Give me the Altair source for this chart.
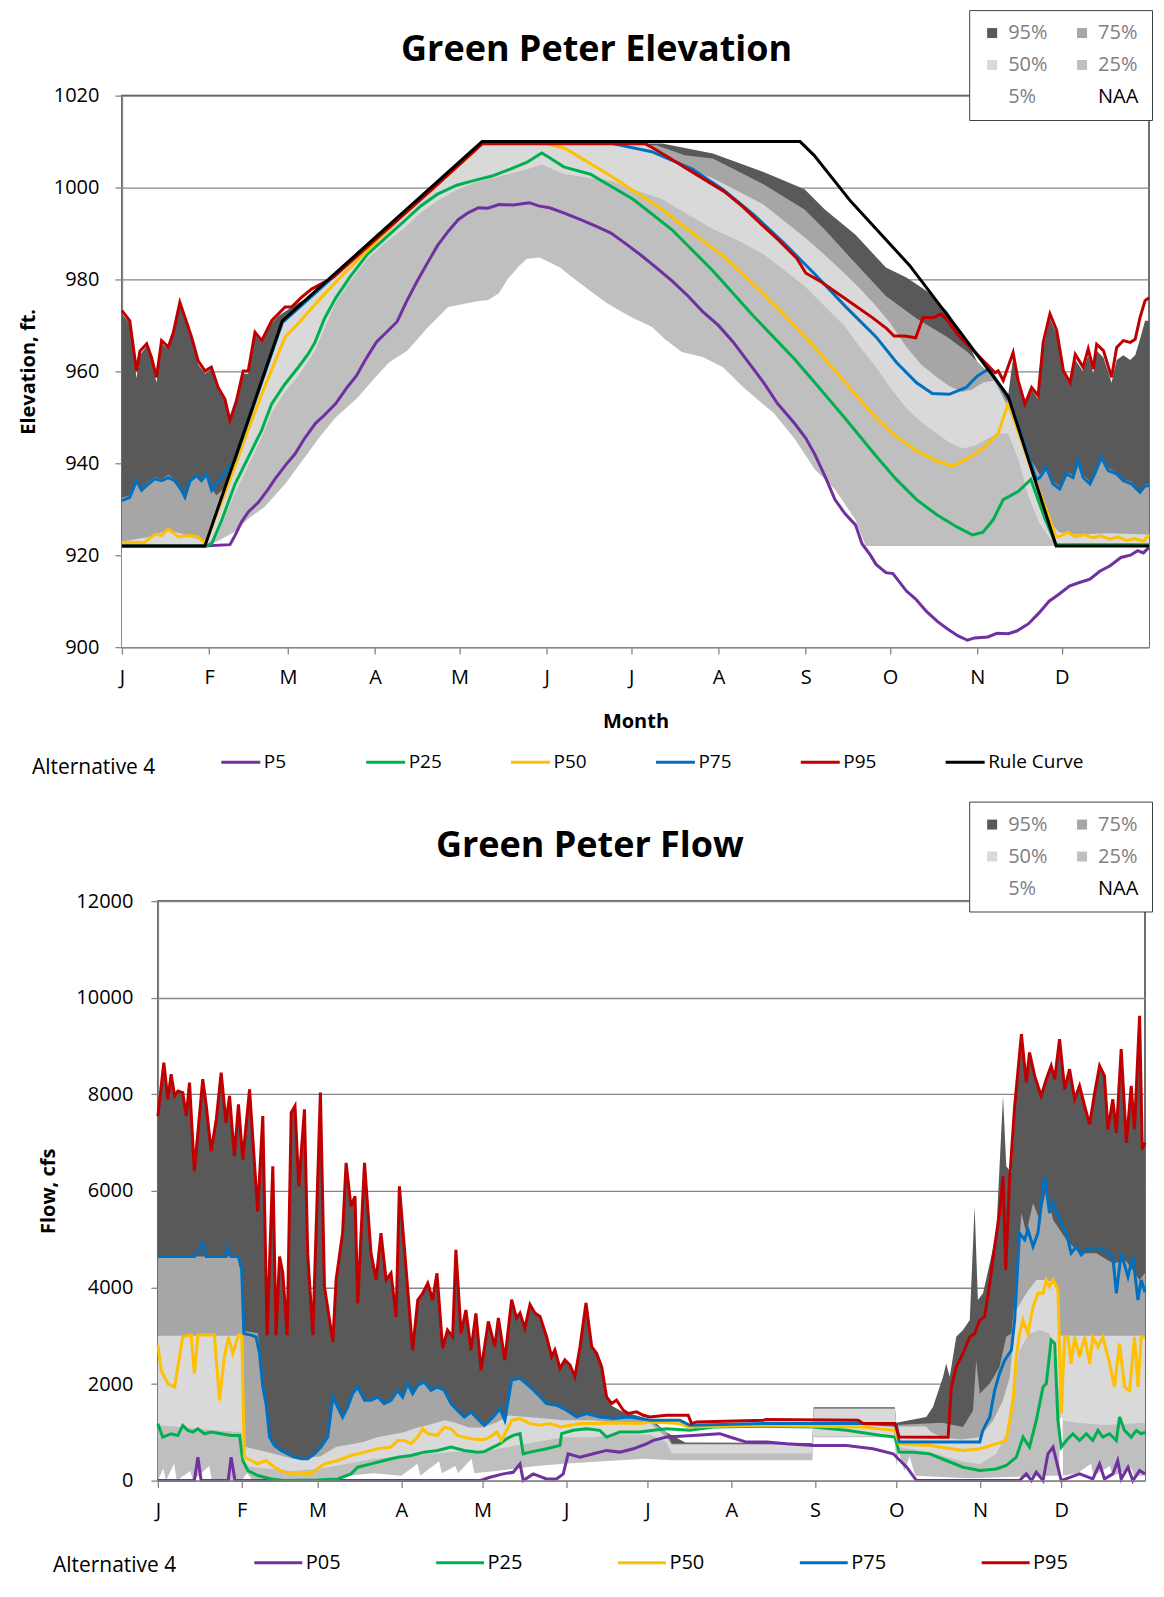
import altair as alt
import pandas as pd

FONT = "Open Sans"
MONTH_DAYS = [0, 31, 59, 90, 120, 151, 181, 212, 243, 273, 304, 334]
MONTH_LABELS = ["J", "F", "M", "A", "M", "J", "J", "A", "S", "O", "N", "D"]
ELEV_TICKS = [900, 920, 940, 960, 980, 1000, 1020]
FLOW_TICKS = [0, 2000, 4000, 6000, 8000, 10000, 12000]

BAND_NAMES = ["95%", "75%", "50%", "25%", "5%", "NAA"]
BAND_COLORS = ["#595959", "#a6a6a6", "#d9d9d9", "#bfbfbf", "#ffffff", "#ffffff"]

E_SERIES = ["P5", "P25", "P50", "P75", "P95", "Rule Curve"]
E_COLORS = ["#7030a0", "#00b050", "#ffc000", "#0070c0", "#c00000", "#000000"]
E_WIDTHS = [3, 3, 3, 3, 3, 7]
F_SERIES = ["P05", "P25", "P50", "P75", "P95"]
F_COLORS = ["#7030a0", "#00b050", "#ffc000", "#0070c0", "#c00000"]

# ---------------- Elevation (ft) : (day of year, value) ----------------
E_RULE = [(0, 922), (29.5, 922), (57, 971), (128, 1010), (241, 1010), (246, 1007), (259, 997),
          (280, 983), (298, 968.5), (315, 954.5), (332, 922), (365, 922)]

E_P95 = [(0, 973.2), (2.8, 971), (5.2, 960.1), (6.4, 964.4), (8.8, 966), (10.5, 963.1), (12.3, 958.7),
         (14.1, 966.7), (16.5, 965.3), (18.3, 968.5), (20.6, 975), (22.4, 971.8), (24.8, 967.4),
         (27.1, 962.3), (29.5, 960.1), (31.8, 960.9), (34.2, 956.5), (36.6, 954), (38.4, 949.3),
         (40.7, 953.6), (43.1, 960.1), (44.9, 960.1), (47.3, 968.5), (49.7, 966.7), (51.5, 968.9),
         (53.3, 971.1), (55.6, 972.5), (58, 974), (60.3, 974), (63.8, 976.1), (67.4, 977.9), (75, 980.4),
         (90, 988.6), (110, 999.5), (128, 1009.5), (186, 1009.5), (188.4, 1008.7), (194.9, 1006.3),
         (201.3, 1003.9), (207.7, 1001.5), (214.1, 999.1), (220.5, 995.9), (226.9, 992.2), (233.3, 988.6),
         (239.8, 984.6), (243, 981.4), (248.7, 979.4), (259, 975), (266.7, 971.7), (271.8, 969.3),
         (274.4, 967.7), (278.2, 967.7), (282.1, 967.3), (284.7, 971.7), (288.5, 971.7), (291.1, 972.5),
         (293.6, 970.9), (297.5, 967.7), (303.9, 963.7), (310.3, 959.7), (311.4, 960.1), (313.2, 958),
         (316.7, 964.1), (318.5, 958), (320.9, 952.9), (323.3, 956.5), (325.6, 954.7), (327.4, 966.3),
         (329.8, 972.5), (332.2, 968.9), (334.6, 960.1), (337, 957.5), (338.8, 963.7), (341.6, 960.9),
         (343.4, 964.9), (345.2, 960.5), (346.4, 965.9), (348.8, 964.5), (351.7, 958.7), (353.5, 965.2),
         (355.9, 966.7), (358.3, 966.3), (360.1, 967), (361.8, 971.7), (363.6, 975.4), (365, 976)]

E_P75 = [(0, 931.9), (2.8, 932.6), (5.2, 936.2), (7, 934.1), (9.4, 935.5), (11.7, 936.6), (14.1, 936.2),
         (16.5, 936.9), (18.8, 936.2), (21.2, 934.1), (22.4, 932.6), (24.2, 936.2), (26.5, 937.3),
         (28.3, 936.2), (30.1, 937.7), (31.9, 934.1), (33.6, 935.5), (35.4, 936.9), (40, 940.5),
         (57, 970.6), (128, 1009.6), (174, 1009.6), (188.3, 1007.8), (202.7, 1004), (213.6, 999.6),
         (224.5, 994.1), (235.3, 987.9), (246.2, 981.2), (257, 974.2), (268, 967.5), (275.2, 962),
         (282.4, 957.5), (288, 955.2), (294, 955), (300, 956.5), (304, 959), (308, 960.5), (315, 954.5),
         (325, 936.5), (326.2, 936.9), (328.5, 939.1), (330.9, 935.5), (333.3, 934.4), (335.6, 937.7),
         (338, 936.9), (339.8, 940.6), (341.6, 936.9), (344, 935.5), (345.7, 937.7), (348.1, 941.3),
         (350.5, 938.4), (353.5, 937.7), (355.9, 936.2), (358.8, 935.5), (361.8, 933.7), (363.6, 935.1),
         (365, 935.1)]

E_P50 = [(0, 922.7), (4, 922.8), (8, 922.7), (10, 923.8), (12, 924.6), (14, 924.3), (16.5, 925.7),
         (18.5, 924.8), (20, 924), (22.4, 924.2), (24.5, 924.3), (26.5, 924.1), (28, 923.5), (29.5, 922.5),
         (35, 931), (40, 939), (45, 947.5), (50, 955.5), (55, 963), (58, 967.5), (62, 970), (70, 975.5),
         (80, 982), (90, 988), (100, 994), (110, 999.5), (120, 1005), (128, 1009.5), (150, 1009.7),
         (157.5, 1008.5), (166.5, 1005.2), (173.8, 1002.5), (181, 999.6), (192, 995.2), (202.7, 990.1),
         (213.6, 985.2), (224.5, 979), (235.3, 972.4), (246.2, 965.3), (257, 957.6), (268, 949.8),
         (275.2, 945.8), (282.4, 942.7), (289.6, 940.5), (295, 939.4), (300.5, 941), (305.9, 943.2),
         (311.4, 946.5), (315, 953.1), (323, 939), (332, 924), (333, 924), (336, 925), (339, 924),
         (342, 924.5), (345, 923.8), (348, 924.2), (351, 923.5), (354, 924), (357, 923.2), (360, 923.6),
         (363, 923), (365, 924.5)]

E_P25 = [(0, 922), (30, 922), (31.9, 922.5), (35.4, 927.5), (40.2, 935.5), (44.9, 941.3), (49.6, 947.1),
         (53.2, 952.9), (57.9, 957.2), (62.7, 960.9), (66.2, 963.8), (68.6, 966.3), (72, 971.5), (76, 976),
         (81, 980.5), (87.3, 985.5), (93.6, 989), (100, 992.5), (106.2, 996), (112, 998.5), (119, 1000.5),
         (125, 1001.5), (131.5, 1002.5), (138, 1004), (144, 1005.5), (149.2, 1007.5), (152, 1006.5),
         (157, 1004.5), (166.5, 1002.9), (181.8, 997.4), (195.5, 990.8), (210, 981.9), (224.5, 972),
         (239, 962.7), (246.2, 957.6), (257, 949.8), (268, 941.6), (275.2, 936.5), (282.4, 932.1),
         (289.6, 928.8), (296.9, 926.1), (302.3, 924.4), (306, 925), (309.6, 927.7), (313.2, 932.1),
         (318.6, 933.9), (323, 936.5), (328, 928), (332, 922.3), (365, 922.3)]

E_P5 = [(0, 922), (29, 922), (38.4, 922.3), (40.2, 924.3), (42.5, 927.2), (44.9, 929.4), (48.5, 931.5),
        (52, 934.4), (54.3, 936.5), (58, 939.5), (61.5, 942), (65, 945.5), (68.8, 948.7), (72, 950.5),
        (76, 953), (80, 956.5), (83.3, 959), (87, 963), (90.5, 966.4), (94, 968.5), (97.8, 970.8),
        (101, 975), (105, 979.7), (108.5, 983.5), (112.2, 987.4), (116, 990.5), (119.5, 993), (123, 994.5),
        (126.7, 995.6), (130, 995.5), (134, 996.3), (139, 996.2), (144.8, 996.7), (148, 996), (152, 995.6),
        (157, 994.5), (163, 993), (168, 991.7), (173.8, 990.1), (179, 987.8), (184.6, 985.2), (190, 982.5),
        (195.5, 979.7), (201, 976.5), (206.4, 973), (212, 970), (217.2, 966.4), (222, 962.5), (228, 957.6),
        (233, 953), (239, 948.7), (243, 945.5), (246.2, 942), (250, 937), (253.4, 932.1), (257, 929),
        (260.7, 926.6), (263, 922.5), (266, 920), (268, 918), (271.5, 916.2), (274, 916), (278.8, 912.2),
        (282, 910.5), (286, 907.7), (290, 905.5), (293.3, 904), (297, 902.5), (300.5, 901.5), (303, 902),
        (307.7, 902.2), (311, 903), (315, 902.9), (318, 903.5), (322.2, 905.1), (326, 907.5), (329.5, 910),
        (333, 911.5), (336.7, 913.3), (340, 914), (344, 914.8), (347.5, 916.5), (351.2, 917.7),
        (355, 919.5), (358.4, 920), (361, 921), (363, 920.5), (365, 921.7)]

# NAA percentile band tops (elevation)
E_N95 = [(0, 972.5), (2.8, 970.5), (5.2, 958.5), (6.4, 963.5), (8.8, 965.5), (10.5, 962.5), (12.3, 957.5),
         (14.1, 966), (16.5, 965), (18.3, 968), (20.6, 974.5), (22.4, 971.5), (24.8, 967), (27.1, 961.5),
         (29.5, 959.5), (31.8, 960.5), (34.2, 956), (36.6, 953.5), (38.4, 949), (40.7, 953), (43.1, 959.5),
         (44.9, 959.5), (47.3, 968), (49.7, 966.2), (51.5, 968.5), (53.3, 970.5), (55.6, 972), (58, 973),
         (63, 975), (68, 976.5), (128, 1009.5), (192, 1009.6), (210, 1007.4), (228, 1003.4),
         (242.6, 999.6), (249.8, 995.2), (260.7, 989.7), (271.5, 982.6), (278.8, 980.4), (286, 977.5),
         (293.3, 973), (300.5, 966.4), (304, 962), (310, 958.5), (315, 955), (316.7, 963), (318.5, 957),
         (320.9, 952.5), (323.3, 956), (325.6, 954), (327.4, 965), (329.8, 971.5), (332.2, 968),
         (334.6, 959.5), (337, 957), (338.8, 962.5), (341.6, 960), (343.4, 963.5), (345.2, 959.5),
         (346.4, 964.5), (348.8, 963), (351.7, 957.5), (353.5, 962.5), (355.9, 963.5), (358.3, 962.5),
         (360.1, 963.5), (361.8, 967), (363.6, 971), (365, 971)]

E_N75 = [(0, 932.5), (2.8, 933), (5.2, 936.5), (7, 934.5), (9.4, 936), (11.7, 937), (14.1, 936.5),
         (16.5, 937.5), (18.8, 936.5), (21.2, 934.5), (22.4, 933), (24.2, 936.5), (26.5, 937.5),
         (28.3, 936.5), (30.1, 938), (31.9, 934.5), (33.6, 933), (37, 935), (57, 970.5), (128, 1009.4),
         (190, 1009.2), (200, 1007), (210, 1006.3), (228, 1000.7), (242.6, 995.2), (249.8, 990.8),
         (260.7, 983.5), (271.5, 976.4), (282.4, 971.5), (293.3, 967.5), (300.5, 964.2), (306, 960.9),
         (310, 958.5), (315, 953), (320, 944), (326.2, 937.5), (328.5, 939.5), (330.9, 936), (333.3, 935),
         (335.6, 938), (338, 937.5), (339.8, 941), (341.6, 937.5), (344, 936), (345.7, 938),
         (348.1, 941.5), (350.5, 939), (353.5, 938), (355.9, 936.5), (358.8, 936), (361.8, 934),
         (363.6, 935.5), (365, 935.5)]

E_N50 = [(0, 923), (10, 924), (16.5, 925.5), (22, 924.5), (29.5, 923), (35, 931.5), (57, 970.5),
         (128, 1009.7), (185, 1009.7), (192, 1007.4), (200, 1004.5), (210, 1002), (219, 999.2),
         (228, 996.3), (242.6, 989.2), (250, 985.2), (257, 981.2), (262, 978.2), (268, 974.2),
         (273, 970.5), (278.8, 965.3), (284, 961.5), (289.6, 958.7), (294, 956.8), (298.7, 955.5),
         (302, 956), (306, 957.6), (310, 958), (315, 952), (320, 944), (325, 936), (330, 927), (333, 925),
         (340, 924.5), (350, 924.8), (365, 924.5)]

E_N25 = [(0, 922.3), (30, 922.3), (34, 924.5), (40.2, 933.5), (44.9, 939.5), (49.6, 945.5), (53.2, 951),
         (57.9, 955.5), (62.7, 959), (68.6, 964.5), (76, 975), (81, 979.5), (87.3, 984.5), (93.6, 988),
         (100, 991), (106.2, 994.5), (112, 997), (119, 999.5), (125, 1001), (131.5, 1002), (138, 1003),
         (144, 1004), (149.2, 1005), (156.8, 1003), (166.5, 1002), (173.8, 1001.5), (182, 999.5),
         (192, 997.5), (200, 994.5), (210, 991), (219, 988.5), (228, 985.5), (242.6, 978.6), (250, 974),
         (257, 969.7), (262, 965.5), (268, 960.9), (273, 956.5), (278.8, 952), (284, 949), (289.6, 946.5),
         (294, 944.5), (298.7, 943.2), (303, 943.8), (307.7, 945.4), (311, 946.5), (315, 946.5),
         (319, 940), (322, 933), (326, 927), (330, 923.5), (334, 922.3), (365, 922.3)]

E_N5 = [(0, 922), (30.8, 922), (39.8, 925), (45, 928), (50.7, 930.5), (58, 935.5), (65.2, 941.5),
        (70, 945.5), (76, 950), (83.3, 954), (90.5, 959), (95, 962), (101.4, 964.5), (108.6, 969.5),
        (115.9, 974), (120, 974.5), (126.7, 975.3), (130, 975.5), (134, 977), (137, 980), (141.2, 983),
        (144, 984.5), (148.4, 984.8), (151, 984), (155.7, 982.6), (160, 980.5), (166.5, 977.5),
        (172, 975), (177.4, 973), (182, 971.5), (188.3, 969.7), (193, 967), (199, 964.2), (206.4, 963.1),
        (213.6, 960.9), (220.9, 956.5), (226, 953.8), (231.7, 950.9), (239, 945.4), (246.2, 938.7),
        (253.4, 934.3), (260.7, 927.7), (264.3, 922), (365, 922)]

# ---------------- Flow (cfs) : (day of year, value) ----------------
F_P95 = [(0, 7549), (2.2, 8657), (3.7, 7895), (4.9, 8415), (6.2, 7965), (7.4, 8069), (9.2, 8034),
         (10.5, 7549), (11.7, 8242), (13.5, 6407), (16.6, 8311), (17.9, 7757), (19.7, 6822), (21.6, 7480),
         (23.4, 8450), (25.2, 7411), (26.5, 7965), (28.3, 6718), (29.8, 7792), (31.4, 6649), (33.9, 8103),
         (36.9, 5575), (38.8, 7549), (40.4, 3013), (42.5, 6510), (43.7, 3013), (45, 4640), (46.2, 4294),
         (47.8, 3013), (49.3, 7618), (50.7, 7757), (52.1, 6095), (54.2, 7688), (55.4, 4710), (57.3, 3013),
         (60.1, 8034), (61.6, 4017), (64.7, 2874), (65.9, 4156), (68.3, 5125), (69.6, 6580), (71.4, 5679),
         (72.9, 5887), (73.9, 3671), (76.4, 6580), (78.8, 4710), (80.7, 4156), (82.5, 5125), (84.4, 4156),
         (86.2, 4294), (88.1, 3394), (89.3, 6095), (91.1, 4848), (94.2, 2701), (96.1, 3740), (97.9, 3879),
         (99.8, 4086), (101.6, 3740), (103.2, 4294), (105.3, 2736), (107.1, 3117), (109, 2978),
         (110.2, 4779), (112.1, 3047), (113.9, 3532), (115.8, 2701), (117.6, 3463), (119.5, 2286),
         (122.2, 3297), (124.6, 2776), (125.9, 3366), (128.3, 2498), (130.8, 3748), (132.6, 3366),
         (133.9, 3470), (135.7, 3158), (137.6, 3644), (139.4, 3470), (141.3, 3401), (143.7, 2984),
         (145.6, 2568), (146.8, 2707), (148.7, 2325), (150.5, 2498), (152.4, 2394), (154.2, 2151),
         (156.1, 2776), (158.3, 3678), (160.4, 2776), (162.2, 2637), (164.1, 2360), (165.9, 1735),
         (167.8, 1596), (169.6, 1666), (172.1, 1457), (173.9, 1388), (177, 1423), (179.5, 1353),
         (181.9, 1319), (188.1, 1353), (196.1, 1353), (197.3, 1180), (199.2, 1215), (223.8, 1249),
         (225.1, 1263), (258.9, 1249), (260.8, 1180), (272.5, 1180), (274.1, 902), (292.2, 900),
         (293.4, 1939), (295.2, 2355), (297.7, 2632), (300.2, 2978), (302, 3047), (303.9, 3324),
         (305.7, 3394), (307.6, 4086), (309.4, 4848), (311.2, 5541), (312.5, 6303), (313.5, 4363),
         (314.9, 6199), (316.8, 7757), (319.3, 9246), (321.1, 8242), (322.3, 8865), (324.2, 8380),
         (326.6, 7965), (328.5, 8311), (330.3, 8588), (331.6, 8311), (333.4, 9142), (335.3, 8103),
         (337.1, 8519), (339, 7896), (340.8, 8173), (342.7, 7757), (344.5, 7376), (346.4, 8034),
         (348.2, 8588), (350, 8380), (351.3, 7272), (353.1, 7896), (354.4, 7203), (356.2, 8934),
         (358.1, 6995), (359.9, 8173), (361.1, 7272), (363, 9627), (364, 6857), (365, 7000)]

F_P75 = [(0, 4640), (13.5, 4640), (16.6, 4917), (17.9, 4640), (25.2, 4640), (25.8, 4813), (27.1, 4640),
         (29.8, 4640), (31, 4363), (31.8, 3047), (34.5, 3013), (36.3, 2978), (37.6, 2632), (38.8, 1939),
         (40, 1593), (41.3, 900), (43.1, 727), (45.6, 623), (48, 554), (50.5, 485), (53, 450), (55.4, 450),
         (57.9, 554), (60.3, 693), (62.8, 900), (64.7, 1731), (66.5, 1524), (68.3, 1316), (70.2, 1524),
         (72, 1801), (73.9, 1939), (76.4, 1662), (78.8, 1662), (81.3, 1731), (83.7, 1593), (86.2, 1662),
         (88.7, 1870), (90.5, 1731), (92.4, 2009), (94.2, 1801), (96.1, 1974), (98.5, 2043), (101, 1870),
         (103.4, 1939), (105.9, 1870), (108.4, 1593), (110.8, 1454), (113.3, 1316), (115.8, 1420),
         (118.2, 1281), (120.7, 1143), (124, 1319), (126.5, 1492), (128.3, 1249), (130.8, 2082),
         (133.9, 2117), (137.6, 1943), (141.3, 1735), (143.7, 1596), (147.4, 1562), (151.1, 1457),
         (154.8, 1319), (158.5, 1388), (163.4, 1319), (168.4, 1284), (174.5, 1319), (178.2, 1284),
         (181.9, 1249), (193, 1249), (196.7, 1145), (223.8, 1180), (260.8, 1180), (273.1, 1145),
         (274.1, 798), (281.7, 798), (303.9, 800), (305, 1039), (307.6, 1316), (309.4, 1870),
         (311.2, 2216), (313.1, 2493), (315.6, 2701), (316.8, 3324), (318.6, 5125), (320.5, 4987),
         (321.7, 5194), (323.6, 4848), (325.4, 5125), (327.9, 6303), (329.7, 5541), (331, 5749),
         (333.4, 5402), (335.9, 5125), (337.7, 4710), (339.6, 4848), (341.4, 4675), (343.3, 4779),
         (345.7, 4813), (348.2, 4813), (350.7, 4744), (353.1, 4640), (354.4, 3878), (356.2, 4710),
         (358.7, 4225), (360.5, 4640), (362.4, 3740), (363.6, 4156), (365, 3900)]

F_P50 = [(0, 2805), (1.2, 2286), (3.7, 2009), (6.2, 1939), (8, 2563), (9.2, 2978), (12.3, 3013),
         (13.5, 2216), (14.8, 3013), (20.9, 3013), (22.8, 1662), (24.6, 2563), (26.1, 2978), (27.7, 2632),
         (29.8, 3013), (31, 3013), (32, 485), (34.5, 416), (36.9, 346), (40, 416), (43.1, 277), (46.8, 173),
         (51.7, 139), (56.7, 152), (61.6, 346), (66.5, 416), (71.4, 519), (76.4, 589), (81.3, 658),
         (86.2, 693), (88.7, 831), (91.1, 831), (93.6, 762), (96.1, 900), (97.9, 1074), (99.8, 970),
         (103.4, 935), (105.9, 1108), (108.4, 1074), (110.8, 935), (113.3, 900), (115.8, 866),
         (118.2, 850), (120.7, 850), (122.8, 902), (125.3, 1006), (127.1, 833), (130.8, 1249),
         (133.9, 1284), (137.6, 1180), (141.3, 1145), (145, 1180), (148.7, 1110), (152.4, 1145),
         (156.1, 1180), (163.4, 1180), (168.4, 1194), (178.2, 1180), (181.9, 1215), (193, 1180),
         (196.1, 1110), (223.8, 1145), (242.3, 1124), (260.8, 1110), (272.5, 1041), (274.1, 763),
         (285.4, 727), (297.7, 623), (303.9, 658), (310, 762), (313.7, 831), (316.2, 1662), (317.4, 2563),
         (318.6, 3047), (319.9, 3324), (321.7, 3047), (323.6, 3601), (325.4, 3878), (327.3, 3878),
         (328.5, 4156), (329.7, 4017), (331, 4156), (332.8, 3948), (333.4, 2701), (334, 1385),
         (335.3, 2978), (336.5, 2978), (337.7, 2424), (339, 2978), (340.8, 2563), (342.7, 2978),
         (344.5, 2424), (345.7, 2978), (347.6, 2770), (349.4, 2978), (351.9, 2424), (353.7, 1939),
         (355.6, 2840), (357.4, 1939), (359.3, 1870), (361.1, 2978), (362.4, 1939), (363.6, 2978),
         (365, 2978)]

F_P25 = [(0, 1177), (1.8, 900), (4.9, 970), (7.4, 935), (9.2, 1143), (11.1, 1039), (12.9, 1004),
         (14.8, 1074), (17.2, 970), (19.7, 1004), (23.4, 970), (27.1, 935), (30.2, 935), (31.4, 416),
         (33.3, 208), (36.9, 104), (41.9, 35), (46.8, 0), (59, 10), (66.5, 35), (71.4, 139), (73.9, 277),
         (78.8, 346), (83.7, 416), (88.7, 485), (93.6, 519), (98.5, 589), (103.4, 623), (108.4, 693),
         (113.3, 623), (118.2, 589), (120.7, 600), (124, 694), (126.5, 763), (129, 868), (131.4, 937),
         (133.9, 972), (135.1, 555), (137.6, 590), (143.7, 659), (148.7, 729), (149.3, 972),
         (153.6, 1041), (158.5, 1076), (163.4, 1041), (165.9, 902), (170.8, 1006), (178.2, 1006),
         (183.2, 1041), (188.1, 1076), (196.7, 1041), (205.3, 1110), (223.8, 1124), (242.3, 1110),
         (254.6, 1041), (266.9, 937), (272.5, 902), (274.1, 590), (279.2, 589), (285.4, 554),
         (291.5, 416), (297.7, 277), (303.9, 208), (310, 242), (313.7, 312), (317.4, 485), (319.9, 900),
         (322.3, 693), (324.8, 1247), (327.3, 1939), (328.5, 2009), (330.3, 2909), (331.6, 2840),
         (332.8, 1247), (334, 693), (335.9, 831), (338.3, 970), (340.8, 831), (343.3, 970), (345.7, 831),
         (347.6, 1039), (349.4, 900), (351.9, 970), (354.4, 831), (355.6, 1316), (357.4, 1039),
         (359.9, 900), (361.8, 1039), (363.6, 970), (365, 1000)]

F_P05 = [(0, 0), (13.5, 0), (14.8, 485), (16, 0), (26, 0), (27.1, 485), (28.5, 0), (119.1, 0),
         (122.8, 69), (127.7, 139), (131.4, 173), (133.9, 347), (135.1, 0), (138.8, 139), (143.7, 35),
         (147.4, 35), (149.9, 139), (151.7, 555), (156.1, 486), (161, 555), (165.9, 625), (170.8, 590),
         (175.8, 659), (180.7, 763), (183.2, 833), (188.1, 902), (193, 916), (199.2, 937), (207.8, 972),
         (211.5, 902), (217.6, 798), (225.1, 798), (232.4, 763), (242.3, 729), (254.6, 729),
         (264.4, 659), (271.9, 555), (276.9, 278), (280.5, 0), (318.6, 0), (321.1, 139), (323, 0),
         (324.8, 173), (327.3, 0), (329.1, 554), (331, 693), (332.8, 277), (334, 0), (340.8, 139),
         (345.7, 35), (348.2, 346), (350, 35), (353.1, 139), (354.9, 416), (356.2, 35), (358.7, 277),
         (360.5, 0), (363, 208), (365, 139)]

# NAA percentile band tops (flow)
F_N95 = ([p for p in F_P95 if p[0] <= 165.9] +
         [(167.8, 1550), (172, 1420), (178, 1330), (183, 1250), (188, 1000), (195, 790), (242, 780),
          (242.5, 1520), (272.5, 1520), (273, 1200), (284.1, 1316), (286.6, 1524), (290.3, 2147),
          (291.5, 2424), (292.8, 2147), (295.2, 2978), (297.7, 3117), (300.2, 3324), (302, 5679),
          (303.2, 3740), (305.1, 3878), (307.6, 4502), (310, 5125), (312.5, 7965), (313.7, 6510),
          (315.6, 6372), (317.4, 8034)] +
         [p for p in F_P95 if p[0] >= 319.3])

F_N75 = ([(0, 4640), (29.8, 4640), (31, 4500), (31.8, 3100), (37, 3050)] +
         [p for p in F_P75 if 37.6 <= p[0] <= 181.9] +
         [(183, 1200), (188, 1000), (190, 765), (242, 760), (242.5, 1500), (272.5, 1500), (273, 1150),
          (290, 1200), (297.7, 1108), (301.4, 1454), (302.6, 2493), (303.9, 1801), (307.6, 2009),
          (311.2, 2355), (313.7, 2978), (315.6, 3047), (317.4, 4086), (319.3, 5541), (321.1, 5125),
          (323.6, 5749), (326, 5402), (328.5, 6026), (331, 5402), (335.9, 4987), (340.8, 4710),
          (347, 4710), (353.1, 4502), (358, 4550), (363, 4156), (365, 4300)])

F_N50 = [(0, 3000), (31.5, 3000), (32, 700), (40, 600), (50, 450), (60, 500), (66, 700), (71, 750),
         (76, 800), (81, 900), (86, 950), (91, 1000), (96, 1100), (100, 1150), (106, 1250), (110, 1200),
         (115, 1100), (120, 1100), (125, 1200), (130, 1350), (140, 1300), (150, 1250), (160, 1250),
         (170, 1200), (182, 1200), (188, 900), (190, 745), (242, 740), (242.5, 1485), (272.5, 1485),
         (273, 1120), (284, 1120), (286, 1000), (290, 900), (297, 850), (303.9, 900), (305, 970),
         (308.8, 1247), (312.5, 1662), (315, 2147), (317.4, 3532), (321.1, 3878), (324.8, 4156),
         (328.5, 4156), (332.2, 4086), (333.4, 3047), (334, 3000), (365, 3000)]

F_N25 = [(0, 1150), (10, 1100), (20, 1050), (31, 1000), (32, 300), (40, 250), (50, 200), (60, 250),
         (70, 350), (80, 450), (90, 500), (100, 550), (110, 600), (120, 600), (130, 700), (140, 800),
         (150, 900), (160, 900), (170, 950), (182, 950), (188, 800), (190, 560), (242, 560), (242.5, 920),
         (272.5, 920), (273, 700), (285, 600), (297, 400), (303.9, 346), (310, 554), (313.7, 970),
         (316.2, 1870), (318.6, 2701), (322.3, 3047), (326, 3117), (329.7, 3047), (332.8, 2009),
         (334, 1247), (340, 1200), (350, 1150), (365, 1200)]

F_N5 = [(0, 0), (2, 250), (3, 0), (6, 350), (7, 0), (12, 200), (13, 0), (19, 300), (20, 0), (31, 0),
        (33, 150), (35, 0), (60, 0), (70, 100), (80, 150), (90, 100), (96, 350), (97, 100), (104, 400),
        (105, 150), (110, 300), (111, 150), (116, 450), (117, 150), (125, 200), (140, 300), (150, 350),
        (165, 400), (180, 450), (190, 420), (242, 420), (242.5, 900), (272.5, 900), (273, 300),
        (274, 600), (276, 200), (278, 500), (280, 100), (300, 50), (330, 100), (333.3, 100),
        (333.5, 1300), (334.5, 1300), (334.7, 100), (340, 150), (345, 350), (346, 100), (352, 300),
        (353, 100), (360, 250), (361, 100), (365, 100)]


def to_frame(pairs, name, col):
    return pd.DataFrame({"day": [p[0] for p in pairs], "value": [p[1] for p in pairs], col: name})


def band_frame(lists, base):
    df = pd.concat([to_frame(p, n, "band") for p, n in zip(lists, BAND_NAMES[:5])], ignore_index=True)
    df["base"] = base
    return df


def line_frame(lists, names):
    return pd.concat([to_frame(p, n, "series") for p, n in zip(lists, names)], ignore_index=True)


elev_bands = band_frame([E_N95, E_N75, E_N50, E_N25, E_N5], 900)
elev_lines = line_frame([E_P5, E_P25, E_P50, E_P75, E_P95, E_RULE], E_SERIES)
flow_bands = band_frame([F_N95, F_N75, F_N50, F_N25, F_N5], 0)
flow_lines = line_frame([F_P05, F_P25, F_P50, F_P75, F_P95], F_SERIES)

LABEL_EXPR = ("[" + ",".join("'%s'" % m for m in MONTH_LABELS) + "][indexof(" +
              str(MONTH_DAYS) + ", datum.value)]")


def month_axis(title):
    kw = dict(values=MONTH_DAYS, labelExpr=LABEL_EXPR, grid=False, tickSize=7, tickWidth=1.3,
              tickColor="#868686", domainColor="#868686", domainWidth=1.5, labelPadding=13,
              labelFont=FONT, labelFontSize=20, labelColor="#000000", labelFlush=False,
              labelOverlap=False, zindex=1)
    if title:
        kw.update(title=title, titleFont=FONT, titleFontSize=20, titleFontWeight="bold",
                  titleColor="#000000", titlePadding=24)
    else:
        kw.update(title=None)
    return alt.Axis(**kw)


def value_axis(title, values, label_pad, title_pad):
    return alt.Axis(values=values, title=title, grid=True, gridColor="#868686", gridWidth=1.3,
                    tickSize=7, tickWidth=1.3, tickColor="#868686", domainColor="#868686",
                    domainWidth=1.5, labelPadding=label_pad, labelFont=FONT, labelFontSize=20,
                    labelColor="#000000", titleFont=FONT, titleFontSize=20, titleFontWeight="bold",
                    titleColor="#000000", titlePadding=title_pad, format="d", labelOverlap=False)


def band_legend(lx, ly):
    return alt.Legend(title=None, orient="none", legendX=lx, legendY=ly, columns=2,
                      direction="horizontal",
                      symbolType="square", symbolSize=100, symbolStrokeWidth=0, labelFont=FONT,
                      labelFontSize=20,
                      labelColor=alt.ExprRef(expr="datum.label == 'NAA' ? '#000000' : '#7f7f7f'"),
                      labelOffset=6, rowPadding=12,
                      columnPadding=24, padding=13, strokeColor="#404040", fillColor="#ffffff",
                      gridAlign="each", labelLimit=200)


def line_legend(lx, ly, n, title_pad, col_pad, sym_w, sym_stroke, label_size):
    return alt.Legend(title="Alternative 4", titleOrient="left", titleAnchor="middle",
                      titleBaseline="top", titleFont=FONT, titleFontSize=21,
                      titleFontWeight="normal", titleColor="#000000", titlePadding=title_pad,
                      orient="none", legendX=lx, legendY=ly, direction="horizontal", columns=n,
                      symbolType="stroke", symbolSize=sym_w * sym_w, symbolStrokeWidth=sym_stroke,
                      labelFont=FONT, labelFontSize=label_size, labelColor="#000000", labelOffset=2,
                      columnPadding=col_pad, gridAlign="all", padding=2, labelLimit=300)


def panel(bands, lines, series, colors, widths, ydomain, yticks, ytitle, xtitle, ylabel_pad,
          ytitle_pad, blegend, llegend, width, height, title, title_offset, title_dx):
    xs = alt.Scale(domain=[0, 365], nice=False, zero=False)
    ys = alt.Scale(domain=ydomain, nice=False, zero=False)
    xaxis = month_axis(xtitle)
    yaxis = value_axis(ytitle, yticks, ylabel_pad, ytitle_pad)
    fscale = alt.Scale(domain=BAND_NAMES, range=BAND_COLORS)
    layers = []
    for name in BAND_NAMES[:5]:
        layers.append(
            alt.Chart(bands).transform_filter(alt.datum.band == name)
            .mark_area(interpolate="linear", strokeWidth=0)
            .encode(x=alt.X("day:Q", scale=xs, axis=xaxis),
                    y=alt.Y("value:Q", scale=ys, axis=yaxis),
                    y2="base:Q",
                    fill=alt.Fill("band:N", scale=fscale, legend=blegend)))
    sscale = alt.Scale(domain=series, range=colors)
    wscale = alt.Scale(domain=series, range=widths)
    for name in series:
        layers.append(
            alt.Chart(lines).transform_filter(alt.datum.series == name)
            .mark_line(interpolate="linear")
            .encode(x=alt.X("day:Q", scale=xs, axis=xaxis),
                    y=alt.Y("value:Q", scale=ys, axis=yaxis),
                    stroke=alt.Stroke("series:N", scale=sscale, legend=llegend),
                    strokeWidth=alt.StrokeWidth("series:N", scale=wscale, legend=llegend),
                    order=alt.Order("day:Q")))
    return alt.layer(*layers).properties(
        width=width, height=height,
        title=alt.TitleParams(text=title, font=FONT, fontSize=36, fontWeight="bold", color="#000000",
                              anchor="middle", frame="bounds", offset=title_offset, dx=title_dx))


# top panel: legends live in the panel itself (coordinates relative to its plot area)
top = panel(elev_bands, elev_lines, E_SERIES, E_COLORS, E_WIDTHS, [900, 1020], ELEV_TICKS,
            "Elevation, ft.", "Month", 16, 15,
            band_legend(848, -85.6),
            line_legend(-92, 644.3, 6, 64, 0, 39, 4, 19),
            1028, 552, "Green Peter Elevation", -59.7, 10)

# bottom panel: legends are placed by the enclosing row (origin 36 px left of the plot)
bottom = panel(flow_bands, flow_lines, F_SERIES, F_COLORS, [3, 3, 3, 3, 3], [0, 12000], FLOW_TICKS,
               "Flow, cfs", None, 18, 17,
               band_legend(848, -99.6),
               line_legend(-71, 634.5, 5, 76, 89, 48, 4, 20),
               988, 580, "Green Peter Flow", 25.8, -5)

spacer = (alt.Chart(pd.DataFrame({"s": [0]})).mark_point(opacity=0)
          .encode(x=alt.X("s:Q", axis=None), y=alt.Y("s:Q", axis=None))
          .properties(width=26, height=2, view=alt.ViewBackground(stroke=None)))

row2 = alt.hconcat(spacer, bottom, spacing=10, bounds="flush")

chart = (alt.vconcat(top, row2, spacing=18.2)
         .resolve_scale(fill="independent", stroke="independent", strokeWidth="independent")
         .resolve_legend(fill="independent", stroke="independent", strokeWidth="independent")
         .properties(padding={"left": 9, "top": 0, "right": 0, "bottom": 0})
         .configure(font=FONT)
         .configure_view(stroke="#404040", strokeWidth=1.5))

chart.save("out.html", embed_options={"renderer": "svg", "actions": False})
